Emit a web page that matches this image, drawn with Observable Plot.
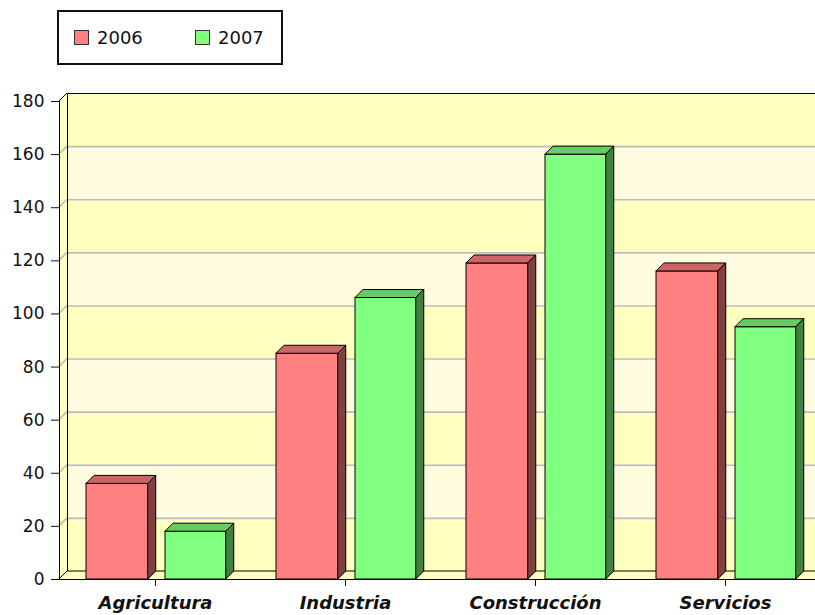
<!DOCTYPE html>
<html>
<head>
<meta charset="utf-8">
<script src="https://cdn.jsdelivr.net/npm/d3@7"></script>
<script src="https://cdn.jsdelivr.net/npm/@observablehq/plot@0.6"></script>
<style>
html, body { margin: 0; padding: 0; background: #fff; width: 815px; height: 615px; overflow: hidden; }
#wrap { position: relative; width: 815px; height: 615px; overflow: hidden; }
#wrap svg { max-width: none !important; display: block; }
#legend { position: absolute; left: 57px; top: 10px; width: 222px; height: 51px; border: 2px solid #111; background: #fff;
  font: 18px "DejaVu Sans", sans-serif; color: #111; z-index: 2; }
.item { position: absolute; top: 0; height: 51px; display: flex; align-items: center; }
.sw { width: 13px; height: 13px; border: 1px solid #333; margin-right: 8px; }
</style>
</head>
<body>
<div id="wrap"><div id="legend"></div></div>
<script>
// ---- data ----
const categories = ["Agricultura", "Industria", "Construcción", "Servicios"];
const seriesNames = ["2006", "2007"];
const values2006 = [36, 85, 119, 116];
const values2007 = [18, 106, 160, 95];
const yTicks = [0, 20, 40, 60, 80, 100, 120, 140, 160, 180];

// ---- styles ----
const frontColors = ["#FF8080", "#80FF80"];
const topColors = ["#CC6666", "#66CC66"];
const sideColors = ["#804040", "#408040"];
const bandDark = "#FFFFC0";
const bandLight = "#FFFCE0";
const depth = 8;

const data2006 = categories.map((c, i) => ({category: c, value: values2006[i]}));
const data2007 = categories.map((c, i) => ({category: c, value: values2007[i]}));

const bands = yTicks.slice(0, -1).map((t, i) => ({y1: t, y2: yTicks[i + 1], dark: i % 2 === 0}));
const darkBands = bands.filter(b => b.dark);
const lightBands = bands.filter(b => !b.dark);
const innerTicks = yTicks.slice(1, -1);

// legend
const legend = document.getElementById("legend");
const legendX = [[15, 38], [136, 159]];
seriesNames.forEach((name, i) => {
  const item = document.createElement("div");
  item.className = "item";
  item.style.left = legendX[i][0] + "px";
  item.innerHTML = `<div class="sw" style="background:${frontColors[i]}"></div><span>${name}</span>`;
  legend.appendChild(item);
});

const plot = Plot.plot({
  width: 820,
  height: 615,
  marginLeft: 59,
  marginRight: 0,
  marginTop: 101,
  marginBottom: 36,
  style: {fontFamily: "'DejaVu Sans', sans-serif", background: "transparent", color: "#111"},
  x: {domain: categories, padding: 0, axis: null},
  y: {domain: [0, 180], axis: null},
  marks: [
    Plot.rect(darkBands, {y1: "y1", y2: "y2", fill: bandDark, dx: depth, dy: -depth}),
    Plot.rect(lightBands, {y1: "y1", y2: "y2", fill: bandLight, dx: depth, dy: -depth}),
    Plot.ruleY(innerTicks, {dx: depth, dy: -depth, stroke: "#bcbcbc", strokeWidth: 1.6}),
    Plot.frame({dx: depth, dy: -depth, stroke: "#000"}),
    Plot.barY(data2006, {x: "category", y: "value", fill: frontColors[0], stroke: "#000", insetLeft: 26, insetRight: 102.25}),
    Plot.barY(data2007, {x: "category", y: "value", fill: frontColors[1], stroke: "#000", insetLeft: 105, insetRight: 24.25}),
    Plot.ruleY([0], {stroke: "#000"}),
    Plot.axisY({anchor: "left", ticks: yTicks, tickSize: 8, tickPadding: 7, fontSize: 17, label: null}),
    Plot.axisX({anchor: "bottom", tickSize: 7, tickPadding: 10, fontSize: 18, fontWeight: "bold", fontStyle: "italic", label: null})
  ]
});

document.getElementById("wrap").appendChild(plot);

// ---- 3D decorations (positions from the Plot scales) ----
const ys = plot.scale("y");
const yf = v => ys.range[0] + (v - ys.domain[0]) / (ys.domain[1] - ys.domain[0]) * (ys.range[1] - ys.range[0]);
const xs = plot.scale("x");
const xL = xs.range[0];
const xR = xs.range[1] + depth;
const y0 = yf(0), yTop = yf(180);
const svg = d3.select(plot);
const firstBar = svg.select('g[aria-label="bar"]').node();
const deco = d3.create("svg:g");
const pts = a => a.map(p => p.join(",")).join(" ");
// left wall
deco.append("polygon").attr("points", pts([[xL, y0], [xL + depth, y0 - depth], [xL + depth, yTop - depth], [xL, yTop]]))
  .attr("fill", bandDark);
// floor
deco.append("polygon").attr("points", pts([[xL, y0], [xL + depth, y0 - depth], [xR, y0 - depth], [xR - depth, y0]]))
  .attr("fill", bandDark);
// diagonals on left wall
innerTicks.forEach(t => {
  deco.append("line").attr("x1", xL).attr("y1", yf(t)).attr("x2", xL + depth).attr("y2", yf(t) - depth)
    .attr("stroke", "#bcbcbc").attr("stroke-width", 1.6);
});
[0, 180].forEach(t => {
  deco.append("line").attr("x1", xL).attr("y1", yf(t)).attr("x2", xL + depth).attr("y2", yf(t) - depth)
    .attr("stroke", "#000");
});
// back wall edges
deco.append("line").attr("x1", xL + depth).attr("y1", y0 - depth).attr("x2", xR).attr("y2", y0 - depth).attr("stroke", "#000");
deco.append("line").attr("x1", xL + depth + 0.5).attr("y1", yTop - depth).attr("x2", xL + depth + 0.5).attr("y2", y0 - depth).attr("stroke", "#000");
// front axis line
deco.append("line").attr("x1", xL + 0.5).attr("y1", yTop).attr("x2", xL + 0.5).attr("y2", y0).attr("stroke", "#000");
if (firstBar) plot.insertBefore(deco.node(), firstBar); else plot.appendChild(deco.node());

// bar top & side faces
svg.selectAll('g[aria-label="bar"]').each(function(_, gi) {
  const g = d3.select(this);
  g.selectAll("rect").each(function() {
    const r = d3.select(this);
    const x = +r.attr("x"), y = +r.attr("y"), w = +r.attr("width"), h = +r.attr("height");
    g.append("polygon").attr("points", pts([[x, y], [x + depth, y - depth], [x + w + depth, y - depth], [x + w, y]]))
      .attr("fill", topColors[gi]).attr("stroke", "#000").attr("stroke-linejoin", "round");
    g.append("polygon").attr("points", pts([[x + w, y], [x + w + depth, y - depth], [x + w + depth, y + h - depth], [x + w, y + h]]))
      .attr("fill", sideColors[gi]).attr("stroke", "#000").attr("stroke-linejoin", "round");
  });
});
</script>
</body>
</html>
